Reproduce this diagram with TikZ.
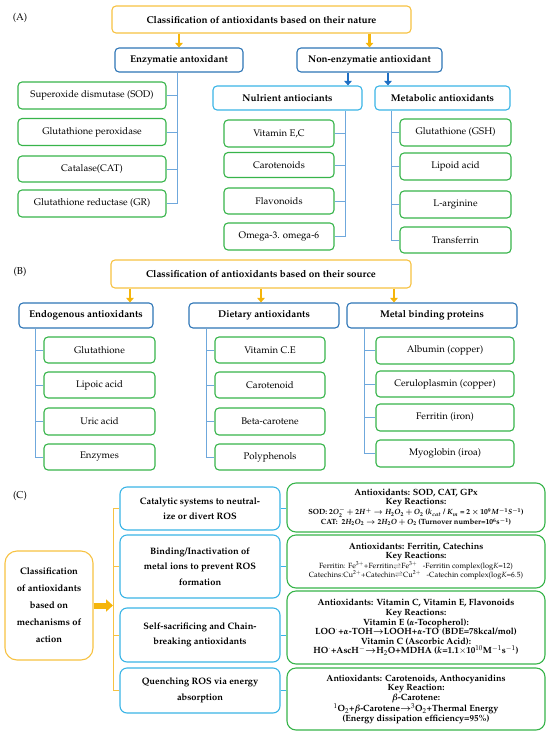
\documentclass[tikz,border=0pt]{standalone}
\usepackage[T1]{fontenc}
\usepackage{mathpazo}
\usetikzlibrary{arrows.meta}
\definecolor{ycol}{HTML}{F7C242}
\definecolor{acol}{HTML}{F5B50A}
\definecolor{bcol}{HTML}{2E75B6}
\definecolor{bacol}{HTML}{1F6FC4}
\definecolor{ccol}{HTML}{3AB4E6}
\definecolor{gcol}{HTML}{37B44A}
\definecolor{lcol}{HTML}{6FA8DC}
\begin{document}
\begin{tikzpicture}[x=1pt,y=-1pt,
 bx/.style={rounded corners=4pt, line width=1.1pt, fill=white, align=center, inner sep=1pt},
 ybox/.style={bx, draw=ycol, font=\bfseries\fontsize{9.9}{11}\selectfont},
 bbox/.style={bx, draw=bcol, font=\bfseries\fontsize{9.8}{11}\selectfont},
 cbox/.style={bx, draw=ccol, font=\bfseries\fontsize{9.8}{11}\selectfont},
 gbox/.style={bx, draw=gcol, font=\fontsize{9.6}{11}\selectfont},
 cblue/.style={bx, draw=ccol, rounded corners=7pt, font=\bfseries\fontsize{9.3}{15.5}\selectfont},
 cgreen/.style={bx, draw=gcol, rounded corners=9pt, font=\bfseries\fontsize{9}{8.8}\selectfont},
 conn/.style={draw=lcol, line width=0.7pt},
 yconn/.style={draw=ycol, line width=0.8pt},
 yarr/.style={draw=acol, line width=2.6pt, -{Triangle[length=4.5pt,width=7.5pt]}},
 barr/.style={draw=bacol, line width=2.6pt, -{Triangle[length=4.5pt,width=7.5pt]}},
 bigarr/.style={draw=acol, line width=6pt, -{Triangle[length=7pt,width=12pt]}},
 lab/.style={font=\fontsize{10}{12}\selectfont}
]
\useasboundingbox (0,0) rectangle (550,734);
% ===== (A) =====
\node[lab] (labA) at (20,18) {(A)};
\node[ybox, minimum width=299pt, minimum height=27pt] (tA) at (261.5,19.5) {Classification of antioxidants based on their nature};
\node[bbox, minimum width=128pt, minimum height=24pt] (enz) at (179,60) {Enzymatie antoxidant};
\node[bbox, minimum width=145pt, minimum height=24pt] (nonenz) at (369.5,60) {Non-enzymatie antioxidant};
\draw[yarr] (tA.south -| enz.north) -- (enz.north);
\draw[yarr] (tA.south -| nonenz.north) -- (nonenz.north);
\node[cbox, minimum width=149pt, minimum height=24pt] (nut) at (287.5,98) {Nulrient antiociants};
\node[cbox, minimum width=135pt, minimum height=24pt] (met) at (442.5,98) {Metabolic antioxidants};
\coordinate (ba1) at (348,0);
\coordinate (ba2) at (388,0);
\draw[barr] (nonenz.south -| ba1) -- (nut.north -| ba1);
\draw[barr] (nonenz.south -| ba2) -- (met.north -| ba2);
% enzymatic children
\node[gbox, minimum width=148pt, minimum height=27pt] (sod) at (92,95.5) {Superoxide dismutase (SOD)};
\node[gbox, minimum width=148pt, minimum height=27pt] (gpx) at (92,132) {Glutathione peroxidase};
\node[gbox, minimum width=148pt, minimum height=26pt] (cat) at (92,169) {Catalase(CAT)};
\node[gbox, minimum width=148pt, minimum height=27pt] (gr) at (92,203.5) {Glutathione reductase (GR)};
\coordinate (et) at (177,0);
\draw[conn] (enz.south -| et) |- (gr.east);
\foreach \n in {sod,gpx,cat} \draw[conn] (\n.east) -- (\n.east -| et);
% nutrient children
\node[gbox, minimum width=110pt, minimum height=27pt] (vit) at (279,133.5) {Vitamin E,C};
\node[gbox, minimum width=110pt, minimum height=25pt] (car) at (279,165) {Carotenoids};
\node[gbox, minimum width=110pt, minimum height=26pt] (flav) at (279,201) {Flavonoids};
\node[gbox, minimum width=110pt, minimum height=27pt] (omg) at (279,236.5) {Omega-3. omega-6};
\coordinate (nt) at (345,0);
\draw[conn] (nut.south -| nt) |- (omg.east);
\foreach \n in {vit,car,flav} \draw[conn] (\n.east) -- (\n.east -| nt);
% metabolic children
\node[gbox, minimum width=111pt, minimum height=27pt] (gsh) at (455.5,132.5) {Glutathione (GSH)};
\node[gbox, minimum width=111pt, minimum height=27pt] (lip) at (455.5,166.5) {Lipoid acid};
\node[gbox, minimum width=111pt, minimum height=27pt] (larg) at (455.5,204.5) {L-arginine};
\node[gbox, minimum width=111pt, minimum height=26pt] (trf) at (455.5,240) {Transferrin};
\coordinate (mt) at (391,0);
\draw[conn] (met.south -| mt) |- (trf.west);
\foreach \n in {gsh,lip,larg} \draw[conn] (\n.west) -- (\n.west -| mt);
% ===== (B) =====
\node[lab] (labB) at (20,272) {(B)};
\node[ybox, minimum width=300pt, minimum height=28pt] (tB) at (261,274) {Classification of antioxidants based on their source};
\node[bbox, minimum width=134pt, minimum height=25pt] (endo) at (86,315.5) {Endogenous antioxidants};
\node[bbox, minimum width=150pt, minimum height=25pt] (diet) at (264,315.5) {Dietary antioxidants};
\node[bbox, minimum width=170pt, minimum height=25pt] (metal) at (432,315.5) {Metal binding proteins};
\coordinate (bb1) at (130,0);
\coordinate (bb2) at (261,0);
\coordinate (bb3) at (394,0);
\draw[yarr] (tB.south -| bb1) -- (endo.north -| bb1);
\draw[yarr] (tB.south -| bb2) -- (diet.north -| bb2);
\draw[yarr] (tB.south -| bb3) -- (metal.north -| bb3);
% endogenous children
\node[gbox, minimum width=111pt, minimum height=26pt] (glu) at (99.5,350) {Glutathione};
\node[gbox, minimum width=111pt, minimum height=26pt] (lpa) at (99.5,385) {Lipoic acid};
\node[gbox, minimum width=111pt, minimum height=27pt] (uric) at (99.5,421.5) {Uric acid};
\node[gbox, minimum width=111pt, minimum height=26pt] (enzy) at (99.5,457) {Enzymes};
\coordinate (ent) at (35,0);
\draw[conn] (endo.south -| ent) |- (enzy.west);
\foreach \n in {glu,lpa,uric} \draw[conn] (\n.west) -- (\n.west -| ent);
% dietary children
\node[gbox, minimum width=110pt, minimum height=26pt] (vce) at (270,350) {Vitamin C.E};
\node[gbox, minimum width=110pt, minimum height=26pt] (crd) at (270,385) {Carotenoid};
\node[gbox, minimum width=110pt, minimum height=27pt] (bcar) at (270,421.5) {Beta-carotene};
\node[gbox, minimum width=110pt, minimum height=26pt] (poly) at (270,457) {Polyphenols};
\coordinate (dt) at (206,0);
\draw[conn] (diet.south -| dt) |- (poly.west);
\foreach \n in {vce,crd,bcar} \draw[conn] (\n.west) -- (\n.west -| dt);
% metal children
\node[gbox, minimum width=138pt, minimum height=27pt] (alb) at (445,350.5) {Albumin (copper)};
\node[gbox, minimum width=138pt, minimum height=26pt] (cer) at (445,384) {Ceruloplasmin (copper)};
\node[gbox, minimum width=138pt, minimum height=27pt] (fer) at (445,417.5) {Ferritin (iron)};
\node[gbox, minimum width=138pt, minimum height=27pt] (myo) at (445,453.5) {Myoglobin (iroa)};
\coordinate (mlt) at (364,0);
\draw[conn] (metal.south -| mlt) |- (myo.west);
\foreach \n in {alb,cer,fer} \draw[conn] (\n.west) -- (\n.west -| mlt);
% ===== (C) =====
\node[lab] (labC) at (20,496) {(C)};
\node[bx, draw=ycol, rounded corners=12pt, minimum width=88pt, minimum height=109pt, font=\bfseries\fontsize{9.4}{17}\selectfont] (tC) at (49,605.5) {Classification\\of antioxidants\\based on\\mechanisms of\\action};
\node[cblue, minimum width=160pt, minimum height=43pt] (c1) at (200,508.5) {Catalytic systems to neutral-\\ize or divert ROS};
\node[cblue, minimum width=160pt, minimum height=63pt] (c2) at (200,566.5) {Binding/Inactivation of\\metal ions to prevent ROS\\formation};
\node[cblue, minimum width=160pt, minimum height=54pt] (c3) at (200,635) {Self-sacrificing and Chain-\\breaking antioxidants};
\node[cblue, minimum width=160pt, minimum height=45pt] (c4) at (200,690.5) {Quenching ROS via energy\\absorption};
\coordinate (br) at (113,0);
\draw[yconn] (c1.west -| br) -- (c4.west -| br);
\foreach \n in {c1,c2,c3,c4} \draw[yconn] (\n.west -| br) -- (\n.west);
\draw[bigarr] (tC.east) -- (tC.east -| br);
\node[cgreen, minimum width=258pt, minimum height=49pt] (g1) at (416,507.5) {Antioxidants: SOD, CAT, GPx\\Key Reactions:\\{\fontsize{7.5}{8.8}\selectfont\boldmath SOD: $2O_2^- + 2H^+ \rightarrow H_2O_2 + O_2$ ($k_{cat}$ / $K_m$ = $2\times10^9M^{-1}S^{-1}$)}\\{\fontsize{7.5}{8.8}\selectfont\boldmath CAT:\ \ $2H_2O_2 \rightarrow 2H_2O + O_2$ (Turnover number=10$^{6}$s$^{-1}$)}};
\node[cgreen, minimum width=258pt, minimum height=53pt] (g2) at (416,561.5) {Antioxidants: Ferritin, Catechins\\Key Reactions:\\{\mdseries\fontsize{7.5}{8.8}\selectfont Ferritin: Fe$^{3+}$+Ferritin$\rightleftharpoons$Fe$^{3+}$\ \ \ -Ferritin complex(log\textit{K}=12)}\\{\mdseries\fontsize{7.5}{8.8}\selectfont Catechins:Cu$^{2+}$+Catechin$\rightleftharpoons$Cu$^{2+}$\ \ \ -Catechin complex(log\textit{K}=6.5)}};
\node[cgreen, minimum width=258pt, minimum height=73pt, font=\bfseries\fontsize{9}{9.6}\selectfont] (g3) at (416,627.5) {Antioxidants: Vitamin C, Vitamin E, Flavonoids\\Key Reactions:\\Vitamin E ({\boldmath$\alpha$}-Tocopherol):\\LOO$^{\cdot}$+{\boldmath$\alpha$}-TOH{\boldmath$\rightarrow$}LOOH+{\boldmath$\alpha$}-TO$^{\cdot}$(BDE=78kcal/mol)\\Vitamin C (Ascorbic Acid):\\HO$^{\cdot}$+AscH$^{-}${\boldmath$\rightarrow$}H$_2$O+MDHA ({\boldmath$k$}=1.1$\times$10$^{10}$M$^{-1}$s$^{-1}$)};
\node[cgreen, minimum width=258pt, minimum height=62pt, font=\bfseries\fontsize{9}{9.4}\selectfont] (g4) at (416,699) {Antioxidants: Carotenoids, Anthocyanidins\\Key Reaction:\\{\boldmath$\beta$}-Carotene:\\$^{1}$O$_2$+{\boldmath$\beta$}-Carotene{\boldmath$\rightarrow$}$^{3}$O$_2$+Thermal Energy\\(Energy dissipation efficiency=95\%)};
\foreach \n/\m in {c1/g1,c2/g2,c3/g3,c4/g4} \draw[draw=ccol, line width=0.8pt] (\n.east) -- (\n.east -| \m.west);
\end{tikzpicture}
\end{document}
